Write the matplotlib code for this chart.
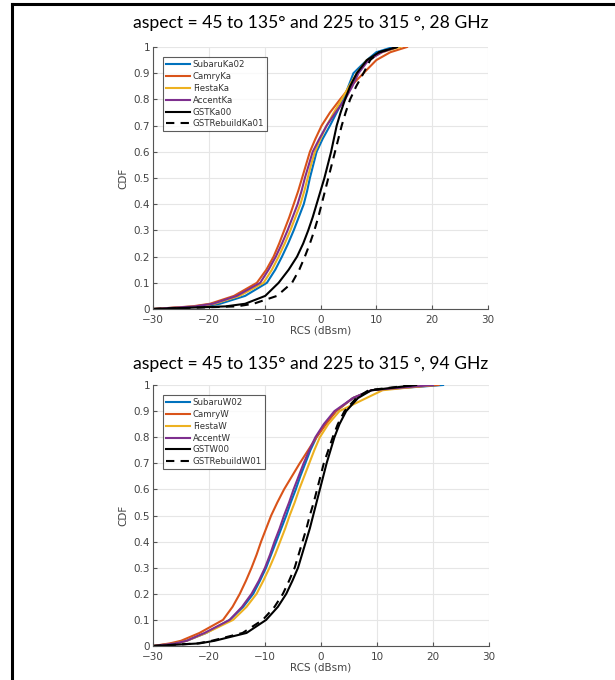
import matplotlib
matplotlib.use("Agg")
import matplotlib.pyplot as plt
from matplotlib.lines import Line2D

# CDF levels at which RCS values were read
cdf_levels = [0, 0.01, 0.02, 0.05, 0.1, 0.15, 0.2, 0.25, 0.3, 0.35, 0.4, 0.45, 0.5,
              0.55, 0.6, 0.65, 0.7, 0.75, 0.8, 0.85, 0.9, 0.95, 0.98, 1]

# 28 GHz (Ka band) RCS values (dBsm)
subaru_ka = [-30, -21, -18, -13.5, -9.6, -8.1, -6.9, -5.8, -4.8, -3.9, -3.0, -2.4, -1.9,
             -1.3, -0.7, 0.4, 1.7, 2.9, 4.1, 5.0, 5.9, 8.3, 10.0, 13.0]
camry_ka = [-30, -23, -19.8, -15.5, -11.4, -9.7, -8.4, -7.4, -6.5, -5.6, -4.8, -4.0, -3.3,
            -2.6, -1.9, -0.9, 0.2, 1.7, 3.5, 5.4, 7.7, 10.0, 12.5, 15.5]
fiesta_ka = [-30, -22, -19, -14.5, -10.2, -8.7, -7.5, -6.4, -5.4, -4.5, -3.6, -2.9, -2.3,
             -1.7, -1.0, 0.0, 1.1, 2.4, 3.8, 5.1, 6.5, 8.3, 11.0, 14.3]
accent_ka = [-30, -22.5, -19.3, -15, -10.8, -9.3, -8.0, -6.9, -5.9, -5.0, -4.1, -3.4, -2.8,
             -2.1, -1.4, -0.2, 1.1, 2.7, 4.4, 5.7, 6.8, 8.6, 11.0, 13.7]
gst_ka = [-30, -17, -13.5, -9.9, -7.5, -5.7, -4.2, -3.1, -2.2, -1.4, -0.7, 0.0, 0.7,
          1.3, 1.9, 2.4, 2.9, 3.6, 4.4, 5.3, 6.5, 8.3, 10.5, 13.7]
gstreb_ka = [-30, -15, -12, -7.8, -5.1, -3.8, -2.8, -1.9, -1.1, -0.4, 0.2, 0.8, 1.4,
             2.0, 2.6, 3.2, 3.8, 4.5, 5.3, 6.4, 7.7, 8.9, 10.5, 13.7]

# 94 GHz (W band) RCS values (dBsm)
subaru_w = [-30, -26, -24, -20.5, -16.3, -13.9, -12.1, -10.9, -9.8, -8.9, -8.0, -7.1, -6.2,
            -5.4, -4.5, -3.7, -2.8, -1.9, -0.8, 0.7, 2.7, 5.7, 9.0, 21.8]
camry_w = [-30, -27, -25, -21.7, -17.5, -15.8, -14.5, -13.4, -12.4, -11.5, -10.7, -9.8, -8.9,
           -7.8, -6.6, -5.2, -3.8, -2.3, -0.8, 0.9, 2.7, 5.7, 9.0, 21.0]
fiesta_w = [-30, -26, -24, -20.5, -15.7, -13.3, -11.5, -10.3, -9.2, -8.2, -7.3, -6.4, -5.6,
            -4.7, -3.9, -3.0, -2.1, -1.2, -0.2, 1.3, 3.3, 8.1, 11.0, 20.0]
accent_w = [-30, -26, -24, -20.8, -16.3, -14.1, -12.4, -11.1, -10.0, -9.1, -8.3, -7.4, -6.6,
            -5.7, -4.9, -4.0, -3.1, -2.1, -1.0, 0.5, 2.4, 5.7, 9.0, 20.0]
gst_w = [-30, -21.7, -19, -13.3, -9.8, -7.7, -6.2, -5.1, -4.1, -3.4, -2.7, -2.0, -1.4,
         -0.8, -0.2, 0.4, 1.0, 1.7, 2.4, 3.3, 4.5, 6.6, 9.0, 17.0]
gstreb_w = [-30, -22, -19.5, -14, -10.4, -8.3, -6.8, -5.7, -4.7, -4.0, -3.3, -2.6, -2.0,
            -1.3, -0.7, -0.1, 0.5, 1.3, 2.1, 3.0, 4.2, 6.3, 8.5, 16.5]

names_ka = ["SubaruKa02", "CamryKa", "FiestaKa", "AccentKa", "GSTKa00", "GSTRebuildKa01"]
names_w = ["SubaruW02", "CamryW", "FiestaW", "AccentW", "GSTW00", "GSTRebuildW01"]
titles = ["aspect = 45 to 135\u00b0 and 225 to 315 \u00b0, 28 GHz",
          "aspect = 45 to 135\u00b0 and 225 to 315 \u00b0, 94 GHz"]
xticks = [-30, -20, -10, 0, 10, 20, 30]
yticks = [0, 0.1, 0.2, 0.3, 0.4, 0.5, 0.6, 0.7, 0.8, 0.9, 1]
ytick_labels = ["0", "0.1", "0.2", "0.3", "0.4", "0.5", "0.6", "0.7", "0.8", "0.9", "1"]

colors = ["#0072BD", "#D95319", "#EDB120", "#7E2F8E", "black", "black"]
styles = ["-", "-", "-", "-", "-", "--"]

fig = plt.figure(figsize=(6.15, 6.8), dpi=100)

# border lines (top and left)
fig.add_artist(Line2D([11.5 / 615, 1], [1 - 3.5 / 680, 1 - 3.5 / 680], color="black", lw=2.2,
                      transform=fig.transFigure))
fig.add_artist(Line2D([11.5 / 615, 11.5 / 615], [0, 1 - 3.5 / 680], color="black", lw=2.2,
                      transform=fig.transFigure))

axes_pos = [[153 / 615, 1 - 309 / 680, 335 / 615, 262 / 680],
            [153 / 615, 1 - 646 / 680, 336 / 615, 261 / 680]]
title_y = [1 - 23 / 680, 1 - 364 / 680]
datasets = [[subaru_ka, camry_ka, fiesta_ka, accent_ka, gst_ka, gstreb_ka],
            [subaru_w, camry_w, fiesta_w, accent_w, gst_w, gstreb_w]]
namesets = [names_ka, names_w]

for i in range(2):
    ax = fig.add_axes(axes_pos[i])
    for data, name, c, ls in zip(datasets[i], namesets[i], colors, styles):
        if ls == "--":
            ax.plot(data, cdf_levels, color=c, lw=1.5, label=name, dashes=(4, 3))
        else:
            ax.plot(data, cdf_levels, color=c, lw=1.5, label=name)
    ax.set_xlim(-30, 30)
    ax.set_ylim(0, 1)
    ax.set_xticks(xticks)
    ax.set_yticks(yticks)
    ax.set_yticklabels(ytick_labels)
    ax.grid(True, color="#e6e6e6", lw=0.8)
    ax.set_axisbelow(True)
    for s in ["top", "right"]:
        ax.spines[s].set_visible(False)
    for s in ["left", "bottom"]:
        ax.spines[s].set_color("#555555")
        ax.spines[s].set_linewidth(0.8)
    ax.tick_params(direction="in", length=3, colors="#555555", labelsize=7.5,
                   labelcolor="#444444")
    ax.tick_params(axis="x", pad=4)
    ax.tick_params(axis="y", pad=2)
    ax.set_xlabel("RCS (dBsm)", fontsize=7.5, color="#444444", labelpad=1)
    ax.set_ylabel("CDF", fontsize=7.5, color="#444444", labelpad=4)
    leg = ax.legend(loc="upper left", bbox_to_anchor=(0.03, 0.96), fontsize=6.2,
                    frameon=True, fancybox=False, handlelength=2.8, handletextpad=0.3,
                    labelspacing=0.32, borderpad=0.35, borderaxespad=0)
    leg.get_frame().set_edgecolor("#333333")
    leg.get_frame().set_linewidth(0.8)
    for t in leg.get_texts():
        t.set_color("#333333")
    fig.text(311 / 615, title_y[i], titles[i], ha="center", va="center",
             fontsize=12.6, family=["Lato", "DejaVu Sans"], color="black")

fig.savefig("out.png", dpi=100, facecolor="white")
